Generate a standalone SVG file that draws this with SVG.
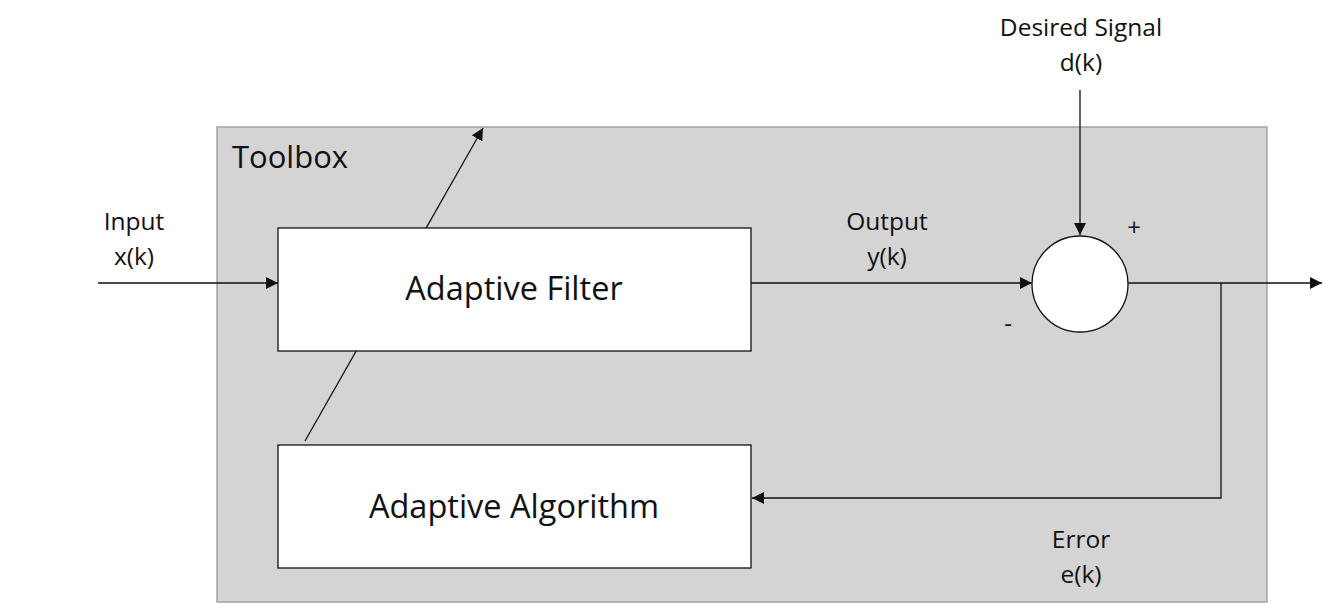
<svg xmlns="http://www.w3.org/2000/svg" width="1335" height="609" viewBox="0 0 1335 609">
<style>
text{font-family:"Open Sans","Liberation Sans",sans-serif;fill:#111}
.lbl{font-size:24.5px;text-anchor:middle}
.big{font-size:32.5px;text-anchor:middle}
.box{fill:#fff;stroke:#111;stroke-width:1.3}
.ln{fill:none;stroke:#111;stroke-width:1.3}
</style>
<defs>
<marker id="ah" viewBox="0 0 10 10" refX="10" refY="5" markerWidth="12" markerHeight="12" markerUnits="userSpaceOnUse" orient="auto">
<path d="M0,0 L10,5 L0,10 z" fill="#111"/>
</marker>
</defs>
<rect width="1335" height="609" fill="#fff"/>
<g id="toolbox">
<rect x="217" y="127" width="1050" height="475" fill="#d4d4d4" stroke="#a3a3a3" stroke-width="1.5"/>
<text x="232" y="168" style="font-size:31px">Toolbox</text>
</g>
<g id="connectors">
<line class="ln" x1="305" y1="441" x2="483" y2="128" marker-end="url(#ah)"/>
<line class="ln" x1="98" y1="283" x2="278" y2="283" marker-end="url(#ah)"/>
<line class="ln" x1="751" y1="283" x2="1032" y2="283" marker-end="url(#ah)"/>
<line class="ln" x1="1080" y1="90" x2="1080" y2="235" marker-end="url(#ah)"/>
<line class="ln" x1="1128" y1="283" x2="1322" y2="283" marker-end="url(#ah)"/>
<polyline class="ln" points="1221,283 1221,498 752,498" marker-end="url(#ah)"/>
</g>
<g id="adaptive-filter">
<rect class="box" x="278" y="228" width="473" height="123"/>
<text class="big" x="514" y="300">Adaptive Filter</text>
</g>
<g id="adaptive-algorithm">
<rect class="box" x="278" y="445" width="473" height="123"/>
<text class="big" x="514" y="518">Adaptive Algorithm</text>
</g>
<g id="sum">
<circle class="box" cx="1080" cy="284" r="48" stroke-width="2"/>
<text x="1134" y="236" style="font-size:24px;text-anchor:middle">+</text>
<text x="1008" y="332" style="font-size:24px;text-anchor:middle">-</text>
</g>
<g id="labels">
<text class="lbl" x="134" y="230">Input</text>
<text class="lbl" x="134" y="265">x(k)</text>
<text class="lbl" x="887" y="230">Output</text>
<text class="lbl" x="887" y="265">y(k)</text>
<text class="lbl" x="1081" y="36">Desired Signal</text>
<text class="lbl" x="1081" y="71">d(k)</text>
<text class="lbl" x="1081" y="548">Error</text>
<text class="lbl" x="1081" y="583">e(k)</text>
</g>
</svg>
